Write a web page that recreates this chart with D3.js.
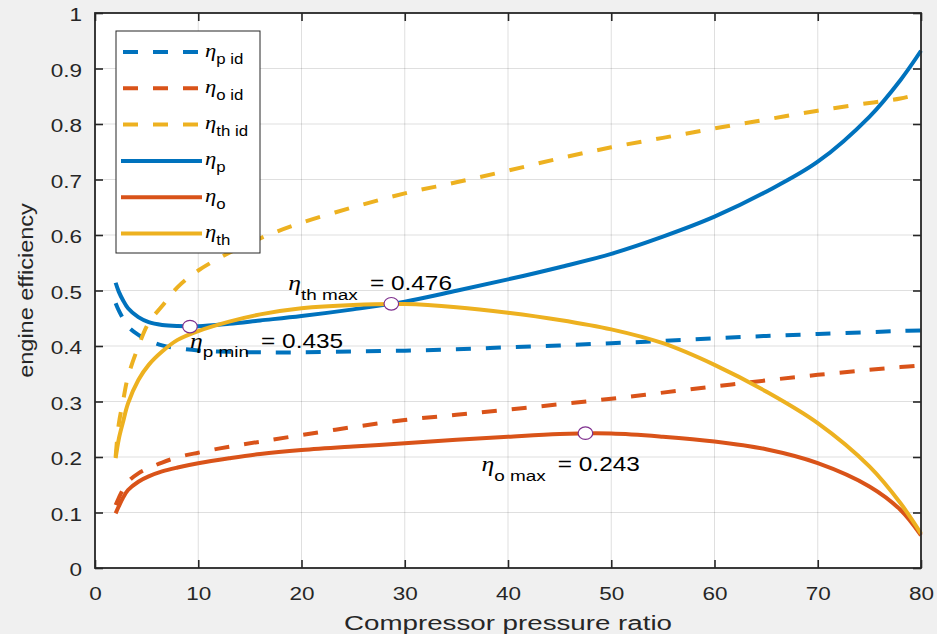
<!DOCTYPE html>
<html><head><meta charset="utf-8">
<script src="https://cdn.jsdelivr.net/npm/d3@7"></script>
<style>body{margin:0;background:#f0f0f0;} svg{display:block}</style>
</head><body>
<script>
// ---------- data ----------
const pressureRatio = [2, 2.3, 2.7, 3.2, 4.2, 5.2, 6.5, 8, 10, 13, 16, 20, 25, 30, 35, 40, 45, 50, 55, 60, 65, 70, 75, 78, 80];
const etaPid  = [0.477, 0.464, 0.450, 0.435, 0.420, 0.410, 0.401, 0.396, 0.392, 0.3895, 0.3886, 0.3886, 0.390, 0.3916, 0.394, 0.3976, 0.401, 0.405, 0.409, 0.414, 0.418, 0.4216, 0.425, 0.427, 0.428];
const etaOid  = [0.1135, 0.126, 0.141, 0.1555, 0.1706, 0.180, 0.190, 0.1995, 0.2078, 0.2186, 0.2276, 0.2396, 0.254, 0.2667, 0.276, 0.2855, 0.295, 0.305, 0.316, 0.327, 0.338, 0.348, 0.357, 0.362, 0.365];
const etaThid = [0.2005, 0.259, 0.299, 0.345, 0.399, 0.442, 0.472, 0.506, 0.536, 0.568, 0.594, 0.622, 0.650, 0.675, 0.695, 0.716, 0.738, 0.758, 0.775, 0.792, 0.808, 0.824, 0.838, 0.846, 0.855];
const etaP    = [0.514, 0.498, 0.483, 0.468, 0.452, 0.443, 0.438, 0.436, 0.4355, 0.44, 0.446, 0.454, 0.466, 0.480, 0.4995, 0.520, 0.542, 0.566, 0.597, 0.633, 0.678, 0.732, 0.813, 0.879, 0.932];
const etaO    = [0.0985, 0.111, 0.126, 0.1405, 0.1555, 0.165, 0.174, 0.181, 0.1886, 0.1976, 0.2054, 0.2126, 0.219, 0.2246, 0.231, 0.2366, 0.2415, 0.2423, 0.2366, 0.228, 0.214, 0.189, 0.147, 0.105, 0.059];
const etaTh   = [0.198, 0.232, 0.262, 0.2967, 0.3387, 0.366, 0.390, 0.411, 0.427, 0.444, 0.457, 0.468, 0.474, 0.4755, 0.470, 0.460, 0.447, 0.430, 0.405, 0.366, 0.318, 0.261, 0.183, 0.117, 0.062];

const seriesNames = ["p id", "o id", "th id", "p", "o", "th"];

const markerX = [9.2, 28.7, 47.5];
const markerY = [0.435, 0.476, 0.243];
const markerSub = ["p min", "th max", "o max"];
const markerVal = ["= 0.435", "= 0.476", "= 0.243"];

const xTickValues = [0, 10, 20, 30, 40, 50, 60, 70, 80];
const xTickLabels = ["0", "10", "20", "30", "40", "50", "60", "70", "80"];
const yTickValues = [0, 0.1, 0.2, 0.3, 0.4, 0.5, 0.6, 0.7, 0.8, 0.9, 1];
const yTickLabels = ["0", "0.1", "0.2", "0.3", "0.4", "0.5", "0.6", "0.7", "0.8", "0.9", "1"];

const xLabel = "Compressor pressure ratio";
const yLabel = "engine efficiency";

// ---------- layout ----------
const W = 937, H = 634;
const L = 95, R = 921, T = 13, B = 568;
const BLUE = "#0072BD", ORANGE = "#D95319", YELLOW = "#EDB120", AX = "#262626";
const SANS = "'Liberation Sans', Arial, Helvetica, sans-serif";
const SERIF = "'Liberation Serif', 'Times New Roman', serif";
const LW = 4;

const series = [
  {vals: etaPid,  color: BLUE,   dash: true},
  {vals: etaOid,  color: ORANGE, dash: true},
  {vals: etaThid, color: YELLOW, dash: true},
  {vals: etaP,    color: BLUE,   dash: false},
  {vals: etaO,    color: ORANGE, dash: false},
  {vals: etaTh,   color: YELLOW, dash: false}
].map((s, i) => Object.assign(s, {name: seriesNames[i]}));

const x = d3.scaleLinear().domain([0, 80]).range([L, R]);
const y = d3.scaleLinear().domain([0, 1]).range([B, T]);

const svg = d3.select("body").append("svg").attr("width", W).attr("height", H);
svg.append("rect").attr("width", W).attr("height", H).attr("fill", "#f0f0f0");
svg.append("rect").attr("x", L).attr("y", T).attr("width", R - L).attr("height", B - T).attr("fill", "#ffffff");

// grid
const grid = svg.append("g").attr("stroke", AX).attr("stroke-opacity", 0.15).attr("stroke-width", 1);
grid.selectAll("line.gx").data(xTickValues.slice(1, -1)).join("line")
  .attr("x1", d => x(d)).attr("x2", d => x(d)).attr("y1", T).attr("y2", B);
grid.selectAll("line.gy").data(yTickValues.slice(1, -1)).join("line")
  .attr("y1", d => y(d)).attr("y2", d => y(d)).attr("x1", L).attr("x2", R);

// lines
const lineGen = d3.line().x(d => x(d[0])).y(d => y(d[1])).curve(d3.curveCatmullRom.alpha(0.5));
const lines = svg.append("g");
series.forEach(s => {
  lines.append("path")
    .datum(pressureRatio.map((p, i) => [p, s.vals[i]]))
    .attr("d", lineGen)
    .attr("fill", "none")
    .attr("stroke", s.color)
    .attr("stroke-width", LW)
    .attr("stroke-linejoin", "round")
    .attr("stroke-dasharray", s.dash ? "15,15" : null);
});

// axes
function styleAxis(g) {
  g.select(".domain").remove();
  g.selectAll(".tick line").attr("stroke", AX).attr("stroke-width", 1.6);
  g.selectAll(".tick text").attr("fill", AX).attr("font-family", SANS).attr("font-size", 18);
}
const xAxis = svg.append("g").attr("transform", `translate(0,${B})`)
  .call(d3.axisBottom(x).tickValues(xTickValues).tickFormat((d, i) => xTickLabels[i]).tickSizeInner(-8).tickSizeOuter(0));
styleAxis(xAxis);
xAxis.selectAll(".tick text").attr("y", 0).attr("dy", null).attr("transform", "translate(0,31.5) scale(1.25,1)");

const yAxis = svg.append("g").attr("transform", `translate(${L},0)`)
  .call(d3.axisLeft(y).tickValues(yTickValues).tickFormat((d, i) => yTickLabels[i]).tickSizeInner(-8).tickSizeOuter(0));
styleAxis(yAxis);
yAxis.selectAll(".tick text").attr("x", 0).attr("dy", null).attr("text-anchor", "end")
  .attr("transform", "translate(-13,7.7) scale(1.25,1)");

const xTop = svg.append("g").attr("transform", `translate(0,${T})`)
  .call(d3.axisTop(x).tickValues(xTickValues).tickFormat("").tickSizeInner(-8).tickSizeOuter(0));
styleAxis(xTop);
const yRight = svg.append("g").attr("transform", `translate(${R},0)`)
  .call(d3.axisRight(y).tickValues(yTickValues).tickFormat("").tickSizeInner(-8).tickSizeOuter(0));
styleAxis(yRight);

// box
svg.append("rect").attr("x", L).attr("y", T).attr("width", R - L).attr("height", B - T)
  .attr("fill", "none").attr("stroke", AX).attr("stroke-width", 1.8);

// markers
const mk = svg.append("g");
markerX.forEach((mx, i) => {
  mk.append("ellipse").attr("cx", x(mx)).attr("cy", y(markerY[i])).attr("rx", 7.3).attr("ry", 6.3)
    .attr("fill", "#fff").attr("stroke", "#7E2F8E").attr("stroke-width", 1.2);
});

// annotations (label offsets relative to marker)
const annOffsets = [[0, 21], [-103, -13.5], [-104, 38]];
markerX.forEach((mx, i) => {
  const t = svg.append("text")
    .attr("transform", `translate(${x(mx) + annOffsets[i][0]},${y(markerY[i]) + annOffsets[i][1]}) scale(1.22,1)`)
    .attr("fill", "#000").attr("font-family", SANS);
  t.append("tspan").attr("font-family", SERIF).attr("font-style", "italic").attr("font-size", 21).text("η");
  t.append("tspan").attr("font-size", 15.5).attr("dy", 9.5).text(markerSub[i]);
  t.append("tspan").attr("font-size", 20).attr("dy", -9.5).attr("dx", 10).text(markerVal[i]);
});

// legend
const lg = svg.append("g");
lg.append("rect").attr("x", 116).attr("y", 31).attr("width", 144).attr("height", 222)
  .attr("fill", "#fff").attr("stroke", AX).attr("stroke-width", 1);
series.forEach((s, i) => {
  const ly = 52 + i * 36.3;
  lg.append("line").attr("x1", s.dash ? 123 : 121).attr("x2", s.dash ? 200 : 202)
    .attr("y1", ly).attr("y2", ly).attr("stroke", s.color).attr("stroke-width", LW)
    .attr("stroke-dasharray", s.dash ? "15,15" : null);
  const t = lg.append("text").attr("transform", `translate(205,${ly + 4.5}) scale(1.2,1)`)
    .attr("fill", "#000").attr("font-family", SANS);
  t.append("tspan").attr("font-family", SERIF).attr("font-style", "italic").attr("font-size", 19).text("η");
  t.append("tspan").attr("font-size", 14).attr("dy", 7).text(s.name);
});

// axis labels
svg.append("text").attr("transform", `translate(${(L + R) / 2},630) scale(1.32,1)`)
  .attr("text-anchor", "middle").attr("font-family", SANS).attr("font-size", 21).attr("fill", AX).text(xLabel);
svg.append("text").attr("transform", `translate(32.7,${(T + B) / 2}) rotate(-90) scale(1.12,1)`)
  .attr("text-anchor", "middle").attr("font-family", SANS).attr("font-size", 21).attr("fill", AX).text(yLabel);
</script>
</body></html>
